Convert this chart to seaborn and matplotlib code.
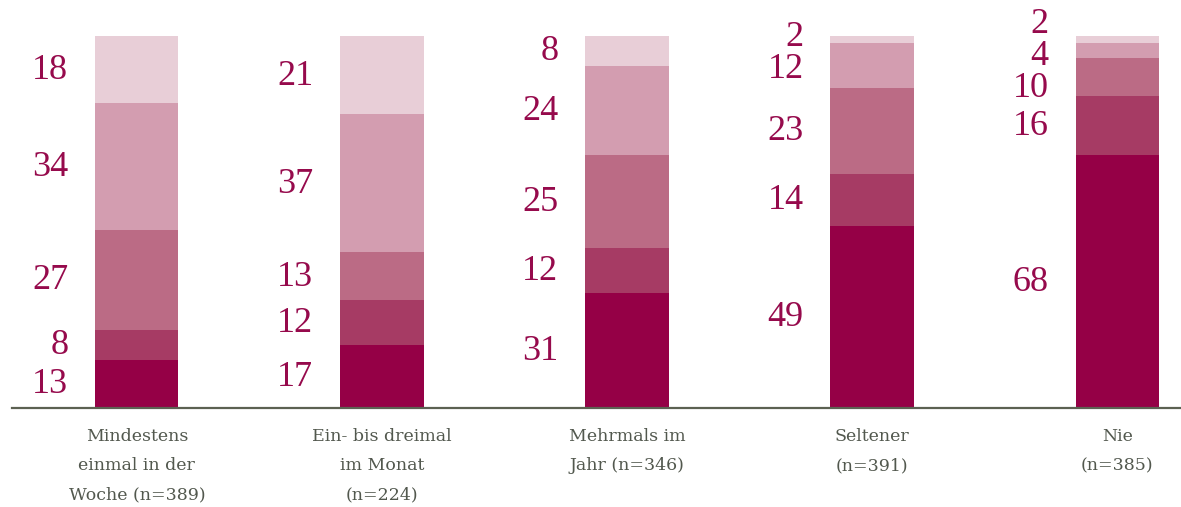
import matplotlib
matplotlib.use('Agg')
import matplotlib.pyplot as plt
import numpy as np
import pandas as pd
import seaborn as sns

# Kategorien und Anteile (%), Segmente von unten nach oben
categories = ['Mindestens\neinmal in der\nWoche (n=389)',
              'Ein- bis dreimal\nim Monat\n(n=224)',
              'Mehrmals im\nJahr (n=346)',
              'Seltener\n(n=391)',
              'Nie\n(n=385)']
seg1 = [13, 17, 31, 49, 68]
seg2 = [8, 12, 12, 14, 16]
seg3 = [27, 13, 25, 23, 10]
seg4 = [34, 37, 24, 12, 4]
seg5 = [18, 21, 8, 2, 2]

colors = ['#950046', '#a63b64', '#bb6b85', '#d39db0', '#e8ced7']
text_col = '#960a4c'
label_col = '#52584e'

sns.set_theme(style='white')
plt.rcParams['font.family'] = ['Liberation Serif', 'DejaVu Serif']

segments = [seg1, seg2, seg3, seg4, seg5]
vals = np.array(segments)            # shape (5 segments, 5 categories)
cum = np.cumsum(vals, axis=0)

df = pd.DataFrame({'cat': categories})
for k in range(5):
    df[f'c{k}'] = cum[k]


def spread(centers, gap):
    # überlappende Beschriftungen um ihren Mittelwert auseinanderziehen
    groups = [[c] for c in centers]
    changed = True
    while changed:
        changed = False
        for j in range(len(groups) - 1):
            a, b = groups[j], groups[j + 1]
            top_a = np.mean(a) + gap * (len(a) - 1) / 2
            bot_b = np.mean(b) - gap * (len(b) - 1) / 2
            if bot_b - top_a < gap:
                groups[j] = a + b
                del groups[j + 1]
                changed = True
                break
    out = []
    for g in groups:
        m = np.mean(g)
        n = len(g)
        out += [m + gap * (q - (n - 1) / 2) for q in range(n)]
    return out


fig = plt.figure(figsize=(11.81, 5.07), dpi=100)
ax = fig.add_axes([0.01, 0.195, 0.99, 0.734])

# gestapelte Balken: kumulierte Summen übereinander, größte zuerst
for k in range(4, -1, -1):
    sns.barplot(data=df, x='cat', y=f'c{k}', color=colors[k], width=0.34,
                saturation=1, ax=ax, linewidth=0)

# Werte links neben den Balken
for i in range(len(categories)):
    centers = cum[:, i] - vals[:, i] / 2.0
    pos = spread(list(centers), 8.6)
    for k in range(5):
        ax.text(i - 0.28, pos[k] + 0.8, str(vals[k, i]), ha='right',
                va='center_baseline', fontsize=26, color=text_col,
                clip_on=False)

ax.set_xlim(-0.51, 4.26)
ax.set_ylim(0, 100)
ax.set_yticks([])
ax.set_xlabel('')
ax.set_ylabel('')
ax.set_xticks(range(len(categories)))
ax.set_xticklabels(categories, fontsize=12.5, color=label_col,
                   linespacing=1.95, va='top', family='DejaVu Serif')
ax.tick_params(axis='x', length=0, pad=14)

for s in ['top', 'right', 'left']:
    ax.spines[s].set_visible(False)
ax.spines['bottom'].set_color('#5c6152')
ax.spines['bottom'].set_linewidth(1.6)

fig.savefig('out.png', dpi=100)
